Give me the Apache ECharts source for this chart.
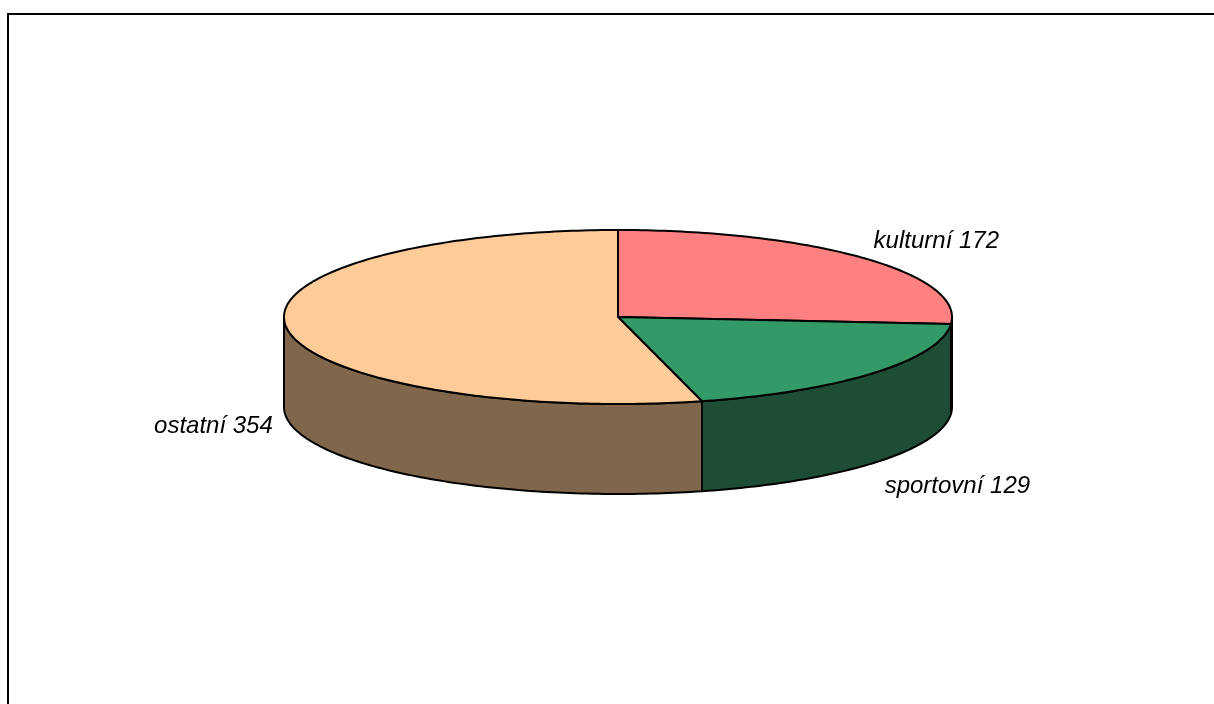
<!DOCTYPE html>
<html>
<head>
<meta charset="utf-8">
<script src="https://cdn.jsdelivr.net/npm/echarts@6/dist/echarts.min.js"></script>
<style>
html,body{margin:0;padding:0;background:#fff;}
#frame{position:absolute;left:7px;top:13px;width:1220px;height:720px;border:2px solid #000;box-sizing:border-box;}
#main{position:absolute;left:0;top:0;width:1214px;height:704px;}
</style>
</head>
<body>
<div id="frame"></div>
<div id="main"></div>
<script>
var categories = ['kulturní', 'sportovní', 'ostatní'];
var values = [172, 129, 354];
var topColors = ['#FF8080', '#339966', '#FFCC99'];
var sideColors = ['#804040', '#1D4D35', '#80664B'];

var chart = echarts.init(document.getElementById('main'), null, {renderer: 'canvas'});
var total = values.reduce(function (s, v) { return s + v; }, 0);
var CX = 618, CY = 317, RX = 334, RY = 87, DEPTH = 90;

function pt(deg, dy) {
  var r = deg * Math.PI / 180;
  return [CX + RX * Math.sin(r), CY - RY * Math.cos(r) + (dy || 0)];
}
function arc(a, b, dy) {
  var pts = [];
  var n = Math.max(2, Math.ceil((b - a) / 1));
  for (var i = 0; i <= n; i++) pts.push(pt(a + (b - a) * i / n, dy));
  return pts;
}

function renderItem(params, api) {
  var idx = params.dataIndex;
  var before = 0;
  for (var i = 0; i < idx; i++) before += values[i];
  var v = api.value(1);
  var a = before / total * 360, b = (before + v) / total * 360;
  var children = [];
  var sa = Math.max(a, 90), sb = Math.min(b, 270);
  if (sb > sa) {
    var top = arc(sa, sb, 0);
    var bot = arc(sa, sb, DEPTH).reverse();
    children.push({
      type: 'polygon', z2: 1,
      shape: {points: top.concat(bot)},
      style: {fill: sideColors[idx], stroke: '#000', lineWidth: 2, lineJoin: 'round'}
    });
  }
  children.push({
    type: 'polygon', z2: 2,
    shape: {points: [[CX, CY]].concat(arc(a, b, 0))},
    style: {fill: topColors[idx], stroke: '#000', lineWidth: 2, lineJoin: 'round'}
  });
  var mid = (a + b) / 2, mr = mid * Math.PI / 180;
  var sx = Math.sin(mr), cs = Math.cos(mr);
  var front = (mid > 90 && mid < 270);
  var p = pt(mid, front ? DEPTH : 0);
  children.push({
    type: 'text', z2: 3,
    x: p[0] + sx * 14, y: p[1] - cs * 31 + 4,
    style: {
      text: api.value(0) + ' ' + v,
      fill: '#000',
      font: 'italic 24px "Liberation Sans", Arial, sans-serif',
      align: sx >= 0 ? 'left' : 'right',
      verticalAlign: 'middle'
    }
  });
  return {type: 'group', children: children};
}

chart.setOption({
  animation: false,
  series: [{
    type: 'custom',
    coordinateSystem: 'none',
    renderItem: renderItem,
    data: categories.map(function (c, i) { return [c, values[i]]; })
  }]
});
</script>
</body>
</html>
